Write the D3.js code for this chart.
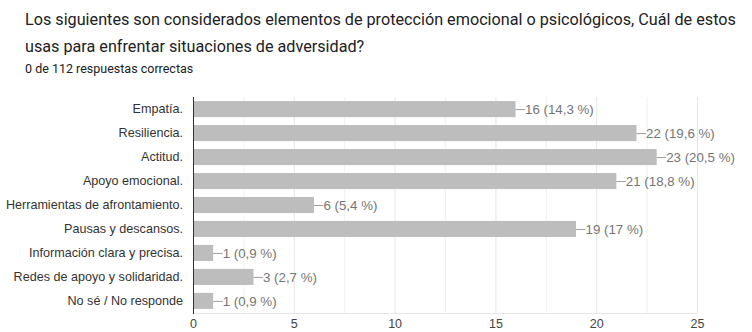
<!DOCTYPE html>
<html><head><meta charset="utf-8">
<script src="https://cdn.jsdelivr.net/npm/d3@7"></script>
<style>body{margin:0;background:#fff}svg{display:block}</style>
</head><body>
<script>
const titleLines = ["Los siguientes son considerados elementos de protección emocional o psicológicos, Cuál de estos", "usas para enfrentar situaciones de adversidad?"];
const subtitle = "0 de 112 respuestas correctas";
const categories = ["Empatía.", "Resiliencia.", "Actitud.", "Apoyo emocional.", "Herramientas de afrontamiento.", "Pausas y descansos.", "Información clara y precisa.", "Redes de apoyo y solidaridad.", "No sé / No responde"];
const values = [16, 22, 23, 21, 6, 19, 1, 3, 1];
const percents = ["14,3", "19,6", "20,5", "18,8", "5,4", "17", "0,9", "2,7", "0,9"];
const ticks = [0, 5, 10, 15, 20, 25];

const W = 752, H = 332;
const svg = d3.select("body").append("svg").attr("width", W).attr("height", H);
const font = "Roboto, Arial, sans-serif";
const afont = "'Liberation Sans', Arial, sans-serif";

const t = svg.append("g");
titleLines.forEach((l, i) => {
  t.append("text").attr("x", 25).attr("y", 25 + i * 27).text(l)
    .attr("font-family", font).attr("font-size", 16.2).attr("fill", "#202124");
});
t.append("text").attr("x", 25).attr("y", 73).text(subtitle)
  .attr("font-family", font).attr("font-size", 12.5).attr("fill", "#202124");

const x = d3.scaleLinear().domain([0, 25]).range([193, 697]);
const y = d3.scaleBand().domain(categories).range([97, 313]).paddingInner(0.33).paddingOuter(0.17);

// grid
const grid = d3.range(0, 25.01, 2.5).filter(v => v > 0);
svg.append("g").selectAll("line").data(grid).join("line")
  .attr("x1", d => x(d) + 0.5).attr("x2", d => x(d) + 0.5).attr("y1", 97).attr("y2", 313)
  .attr("stroke", d => d % 5 === 0 ? "#e6e6e6" : "#f1f1f1").attr("stroke-width", 1);
svg.append("line").attr("x1", 193).attr("x2", 697).attr("y1", 313.5).attr("y2", 313.5).attr("stroke", "#e6e6e6");

// bars
svg.append("g").selectAll("rect").data(values).join("rect")
  .attr("x", x(0)).attr("y", (d, i) => y(categories[i]))
  .attr("width", d => x(d) - x(0)).attr("height", y.bandwidth())
  .attr("fill", "#bdbdbd");

// value labels
const lab = svg.append("g");
values.forEach((v, i) => {
  const cy = y(categories[i]) + y.bandwidth() / 2;
  lab.append("line").attr("x1", x(v)).attr("x2", x(v) + 9.5).attr("y1", cy + 0.5).attr("y2", cy + 0.5)
    .attr("stroke", "#9e9e9e").attr("stroke-width", 1);
  lab.append("text").attr("x", x(v) + 9.5).attr("y", cy + 5)
    .text(`${v} (${percents[i]} %)`).attr("font-family", afont).attr("font-size", 13.3).attr("fill", "#757575");
});

// y axis labels
const yAxis = d3.axisLeft(y).tickSize(0).tickPadding(10);
const gy = svg.append("g").attr("transform", "translate(193,0)").call(yAxis);
gy.select(".domain").remove();
gy.selectAll("text").attr("font-family", afont).attr("font-size", 12.6).attr("fill", "#333");

svg.append("line").attr("x1", 193.5).attr("x2", 193.5).attr("y1", 97).attr("y2", 314).attr("stroke", "#333");

// x axis
const xAxis = d3.axisBottom(x).tickValues(ticks).tickSize(0).tickPadding(6);
const gx = svg.append("g").attr("transform", "translate(0,313)").call(xAxis);
gx.select(".domain").remove();
gx.selectAll("text").attr("font-family", afont).attr("font-size", 12.5).attr("fill", "#444");
</script>
</body></html>
